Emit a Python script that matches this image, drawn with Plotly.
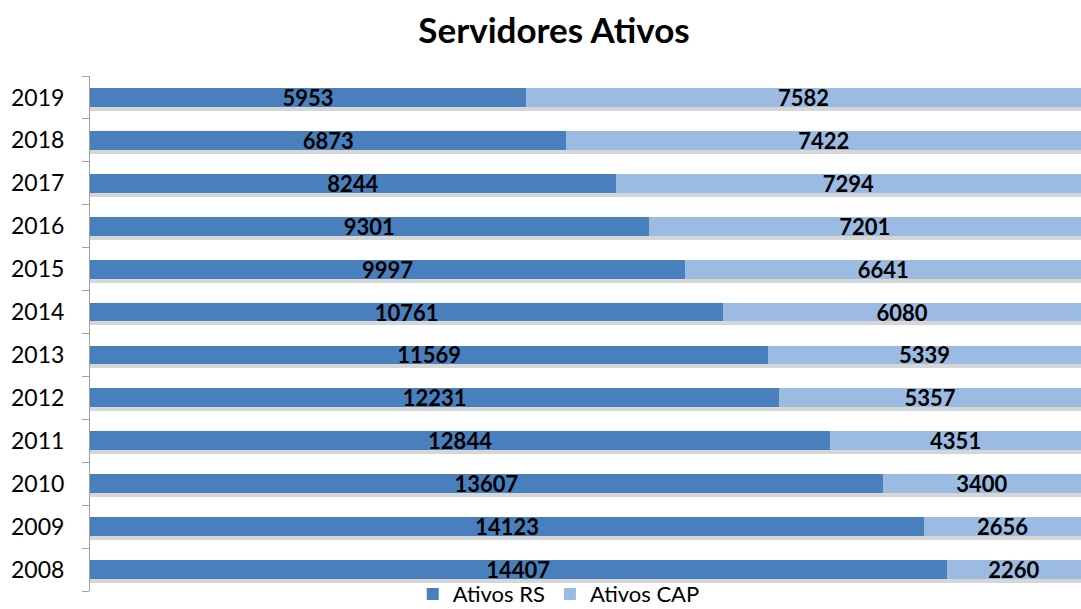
import plotly.graph_objects as go

years = ["2008", "2009", "2010", "2011", "2012", "2013", "2014", "2015", "2016", "2017", "2018", "2019"]
ativos_rs = [14407, 14123, 13607, 12844, 12231, 11569, 10761, 9997, 9301, 8244, 6873, 5953]
ativos_cap = [2260, 2656, 3400, 4351, 5357, 5339, 6080, 6641, 7201, 7294, 7422, 7582]

totals = [a + b for a, b in zip(ativos_rs, ativos_cap)]

FONT = "Lato"
n = len(years)
shift = 4.0 / 42.9  # soft drop shadow offset in category units

fig = go.Figure()
# drop shadow layer (base axes, drawn underneath)
fig.add_trace(go.Bar(
    y=years, x=totals, orientation="h", showlegend=False, hoverinfo="skip",
    marker=dict(color="rgba(120,120,120,0.3)", line=dict(width=0)),
    width=0.44, xaxis="x", yaxis="y",
))
fig.add_trace(go.Bar(
    y=years, x=ativos_rs, orientation="h", name="Ativos RS",
    marker=dict(color="#4a7fbd", line=dict(width=0)),
    text=[str(v) for v in ativos_rs], textposition="inside", insidetextanchor="middle",
    textfont=dict(family=FONT, size=22, color="black", weight="bold"),
    width=0.44, xaxis="x2", yaxis="y2",
))
fig.add_trace(go.Bar(
    y=years, x=ativos_cap, orientation="h", name="Ativos CAP",
    marker=dict(color="#9bbbe3", line=dict(width=0)),
    text=[str(v) for v in ativos_cap], textposition="inside", insidetextanchor="middle",
    textfont=dict(family=FONT, size=22, color="black", weight="bold"),
    width=0.44, xaxis="x2", yaxis="y2",
))

fig.update_layout(
    width=1081, height=609,
    barmode="stack", barnorm="percent",
    paper_bgcolor="white", plot_bgcolor="white",
    margin=dict(l=90, r=0, t=76, b=18, autoexpand=False),
    title=dict(text="<b>Servidores Ativos</b>", x=0.5125, xanchor="center", y=0.95, yanchor="middle",
               font=dict(family=FONT, size=35, color="black")),
    xaxis=dict(visible=False, range=[0, 100], fixedrange=True),
    yaxis=dict(type="category", categoryorder="array", categoryarray=years, visible=False,
               range=[-0.5 + shift, n - 0.5 + shift], automargin=False, showgrid=False),
    xaxis2=dict(visible=False, range=[0, 100], overlaying="x", fixedrange=True),
    yaxis2=dict(type="category", categoryorder="array", categoryarray=years, overlaying="y",
                side="left", range=[-0.5, n - 0.5],
                showline=True, linecolor="#a0a0a0", linewidth=1, automargin=False,
                ticks="outside", tickson="boundaries", ticklen=7, tickcolor="#a0a0a0",
                ticklabelstandoff=20,
                tickfont=dict(family=FONT, size=23, color="black"), showgrid=False),
    legend=dict(orientation="h", x=0.473, xanchor="center", y=-0.006, yanchor="middle",
                font=dict(family=FONT, size=22, color="black"), traceorder="normal",
                bgcolor="rgba(0,0,0,0)", itemwidth=30),
    uniformtext=dict(minsize=22, mode="show"),
)

fig.write_html("out.html", config={"displayModeBar": False},
               post_script="document.body.style.margin='0';")
